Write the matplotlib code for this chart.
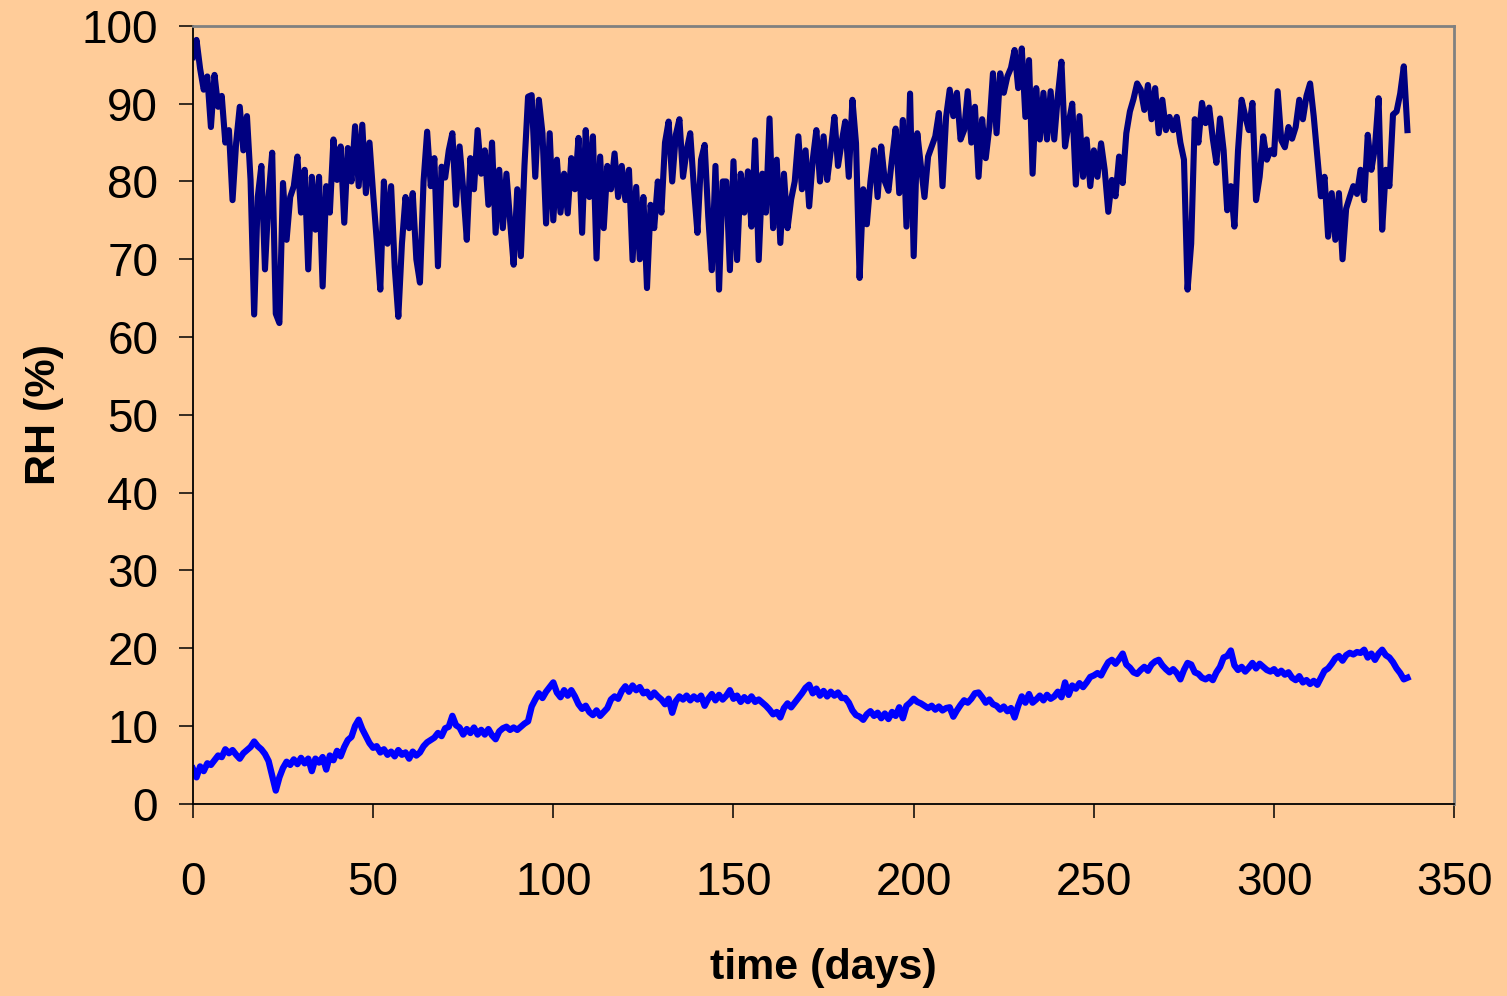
import numpy as np
import matplotlib
matplotlib.use("Agg")
import matplotlib.pyplot as plt

# daily RH readings (%), day 0 .. 337
rh_outside = [
    96.0, 98.2, 94.5, 91.8, 93.5, 87.0, 93.7, 89.6, 91.0, 85.0,
    86.6, 77.6, 85.0, 89.6, 84.0, 88.4, 80.2, 62.9, 78.0, 82.0,
    68.7, 78.0, 83.7, 63.0, 61.8, 79.8, 72.5, 78.0, 79.4, 83.2,
    76.0, 81.5, 68.7, 80.6, 73.8, 80.6, 66.5, 79.4, 76.0, 85.4,
    80.2, 84.5, 74.7, 84.3, 80.0, 87.1, 79.4, 87.3, 78.5, 85.0,
    78.5, 72.5, 66.1, 80.0, 72.0, 79.4, 69.0, 62.6, 72.0, 78.0,
    74.0, 78.5, 70.0, 67.0, 80.0, 86.4, 79.4, 83.0, 69.1, 81.9,
    80.5, 84.0, 86.2, 77.0, 84.5, 79.0, 72.5, 83.0, 79.0, 86.6,
    81.0, 84.0, 77.0, 85.0, 73.4, 81.5, 74.0, 81.0, 75.0, 69.3,
    79.0, 70.4, 82.0, 90.9, 91.1, 80.6, 90.5, 86.2, 74.6, 86.2,
    75.0, 82.8, 76.0, 81.0, 75.9, 83.0, 79.0, 85.6, 73.4, 86.6,
    78.0, 85.8, 70.1, 83.2, 74.0, 82.0, 79.0, 83.6, 78.0, 82.0,
    77.6, 81.5, 69.9, 79.3, 70.0, 78.0, 66.3, 77.0, 74.0, 80.0,
    76.0, 85.0, 87.7, 80.0, 86.0, 88.0, 80.6, 84.0, 86.2, 79.3,
    73.4, 82.8, 84.7, 75.5, 68.6, 82.0, 66.1, 80.0, 80.0, 68.6,
    82.6, 69.9, 81.0, 76.0, 81.3, 74.2, 85.3, 69.9, 81.0, 76.0,
    88.1, 74.0, 82.8, 72.1, 81.0, 74.0, 77.7, 80.0, 85.8, 79.0,
    84.0, 76.8, 82.8, 86.6, 80.0, 85.8, 80.2, 84.0, 88.3, 82.0,
    85.0, 87.7, 80.6, 90.5, 84.9, 67.6, 79.0, 74.5, 80.0, 84.0,
    78.0, 84.5, 80.0, 78.8, 83.0, 86.8, 78.5, 87.9, 74.2, 91.3,
    70.4, 86.2, 82.0, 78.0, 83.2, 84.5, 85.8, 88.8, 79.4, 88.3,
    91.8, 88.4, 91.4, 85.4, 86.6, 91.6, 85.0, 89.6, 80.6, 88.0,
    83.0, 87.0, 93.9, 86.2, 93.9, 91.4, 93.5, 94.6, 96.9, 92.0,
    97.1, 88.3, 95.6, 81.0, 92.0, 85.4, 91.4, 85.4, 91.6, 85.4,
    91.0, 95.4, 84.5, 87.5, 90.0, 79.6, 88.4, 80.6, 85.4, 79.4,
    84.0, 80.6, 84.9, 81.5, 76.1, 80.2, 78.1, 83.2, 79.8, 86.2,
    89.0, 90.6, 92.6, 91.8, 89.2, 92.4, 88.0, 92.0, 86.2, 90.5,
    86.6, 88.3, 86.6, 88.3, 85.0, 82.8, 66.1, 72.0, 88.0, 85.0,
    90.1, 87.5, 89.5, 85.5, 82.4, 88.1, 84.0, 76.3, 79.4, 74.2,
    84.0, 90.5, 88.4, 86.6, 90.1, 77.6, 80.6, 85.8, 82.8, 84.0,
    83.5, 91.6, 85.3, 84.4, 87.0, 85.5, 87.0, 90.5, 88.0, 91.0,
    92.6, 88.4, 83.2, 78.1, 80.6, 72.9, 78.5, 72.5, 78.5, 70.0,
    76.5, 78.0, 79.4, 78.4, 81.5, 77.6, 86.0, 81.5, 84.4, 90.7,
    73.8, 81.5, 79.4, 88.6, 89.0, 91.3, 94.8, 86.6,
]

rh_inside = [
    4.5, 3.4, 4.8, 4.2, 5.2, 5.0, 5.6, 6.2, 6.0, 7.0,
    6.5, 6.9, 6.3, 5.8, 6.5, 6.9, 7.3, 8.0, 7.4, 7.0,
    6.4, 5.5, 3.6, 1.7, 3.4, 4.6, 5.4, 5.0, 5.7, 5.1,
    5.9, 5.2, 5.8, 4.2, 5.8, 5.3, 6.0, 4.4, 6.2, 5.6,
    6.8, 6.1, 7.3, 8.2, 8.6, 10.0, 10.8, 9.6, 8.7, 7.8,
    7.2, 7.4, 6.6, 7.0, 6.3, 6.7, 6.1, 6.9, 6.3, 6.6,
    5.8, 6.7, 6.2, 6.6, 7.4, 7.9, 8.2, 8.5, 9.1, 8.7,
    9.7, 9.9, 11.3, 10.1, 9.8, 8.9, 9.6, 9.1, 9.8, 8.9,
    9.5, 8.9, 9.6, 8.8, 8.3, 9.3, 9.7, 9.9, 9.5, 9.8,
    9.5, 9.9, 10.3, 10.6, 12.5, 13.4, 14.2, 13.6, 14.4, 15.0,
    15.6, 14.3, 13.7, 14.6, 13.9, 14.6, 13.8, 12.8, 12.2, 12.6,
    11.8, 11.4, 12.0, 11.3, 11.8, 12.3, 13.4, 13.8, 13.5, 14.5,
    15.1, 14.4, 15.2, 14.6, 15.0, 14.2, 14.4, 13.7, 14.3, 13.8,
    13.4, 12.8, 13.5, 11.7, 13.2, 13.8, 13.4, 13.9, 13.3, 13.8,
    13.4, 13.9, 12.6, 13.5, 14.1, 13.3, 14.0, 13.4, 13.9, 14.6,
    13.5, 13.9, 13.1, 13.7, 13.2, 13.8, 13.1, 13.4, 13.0, 12.6,
    12.1, 11.5, 11.8, 11.1, 12.3, 12.9, 12.4, 13.0, 13.6, 14.2,
    14.9, 15.3, 14.2, 14.8, 13.9, 14.5, 13.8, 14.4, 13.9, 14.3,
    13.6, 13.6, 13.0, 12.0, 11.4, 11.2, 10.8, 11.5, 11.9, 11.3,
    11.7, 11.0, 11.6, 10.9, 11.8, 11.3, 12.4, 11.0, 12.6, 13.0,
    13.5, 13.1, 12.9, 12.6, 12.3, 12.6, 12.1, 12.5, 12.0, 12.3,
    12.4, 11.2, 12.0, 12.7, 13.3, 13.0, 13.5, 14.2, 14.3, 13.7,
    13.0, 13.4, 12.8, 12.6, 12.1, 12.5, 11.9, 12.3, 11.1, 12.6,
    13.8, 13.0, 14.1, 13.0, 13.4, 13.9, 13.3, 14.0, 13.5, 13.8,
    14.4, 13.7, 15.6, 14.0, 15.2, 14.8, 15.5, 15.0, 15.6, 16.3,
    16.5, 16.8, 16.5, 17.4, 18.2, 18.5, 18.0, 18.6, 19.3, 17.9,
    17.5, 16.9, 16.7, 17.2, 17.6, 17.1, 17.9, 18.3, 18.5, 17.8,
    17.3, 16.9, 17.3, 16.8, 16.0, 17.2, 18.1, 17.9, 16.9, 16.7,
    16.2, 16.0, 16.3, 15.9, 16.9, 17.6, 18.8, 19.0, 19.7, 17.8,
    17.2, 17.6, 17.0, 17.5, 18.1, 17.4, 18.0, 17.6, 17.2, 17.0,
    17.3, 16.7, 17.1, 16.6, 16.9, 16.2, 15.9, 16.4, 15.6, 15.9,
    15.4, 15.8, 15.3, 16.2, 17.1, 17.4, 18.0, 18.7, 19.0, 18.4,
    19.1, 19.4, 19.2, 19.5, 19.4, 19.8, 18.8, 19.3, 18.5, 19.3,
    19.8, 19.1, 18.8, 18.2, 17.4, 16.8, 16.0, 16.2,
]

x_ticks = [0, 50, 100, 150, 200, 250, 300, 350]
y_ticks = [0, 10, 20, 30, 40, 50, 60, 70, 80, 90, 100]

bg = "#FFCC99"
plt.rcParams["font.family"] = ["Liberation Sans", "DejaVu Sans"]

fig = plt.figure(figsize=(15.07, 9.96), dpi=100, facecolor=bg)
ax = fig.add_axes([0.128, 0.193, 0.837, 0.781], facecolor=bg)

days_out = np.arange(len(rh_outside))
days_in = np.arange(len(rh_inside))
ax.plot(days_out, rh_outside, color="#000080", lw=4.4, solid_joinstyle="round")
ax.plot(days_in, rh_inside, color="#0000FF", lw=4.6, solid_joinstyle="round")

ax.set_xlim(0, 350)
ax.set_ylim(0, 100)
ax.set_xticks(x_ticks)
ax.set_yticks(y_ticks)

for side in ("left", "bottom"):
    ax.spines[side].set_color("#000000")
    ax.spines[side].set_linewidth(1.3)
for side in ("top", "right"):
    ax.spines[side].set_color("#808080")
    ax.spines[side].set_linewidth(2)

ax.tick_params(axis="both", direction="out", length=10, width=1.1, color="#000000",
               labelsize=33)
ax.tick_params(axis="y", pad=15)
ax.tick_params(axis="x", pad=31)

ax.set_xlabel("time (days)", fontsize=31, fontweight="bold", labelpad=31)
ax.set_ylabel("RH (%)", fontsize=31, fontweight="bold", labelpad=13)

fig.savefig("out.png", dpi=100, facecolor=bg)
